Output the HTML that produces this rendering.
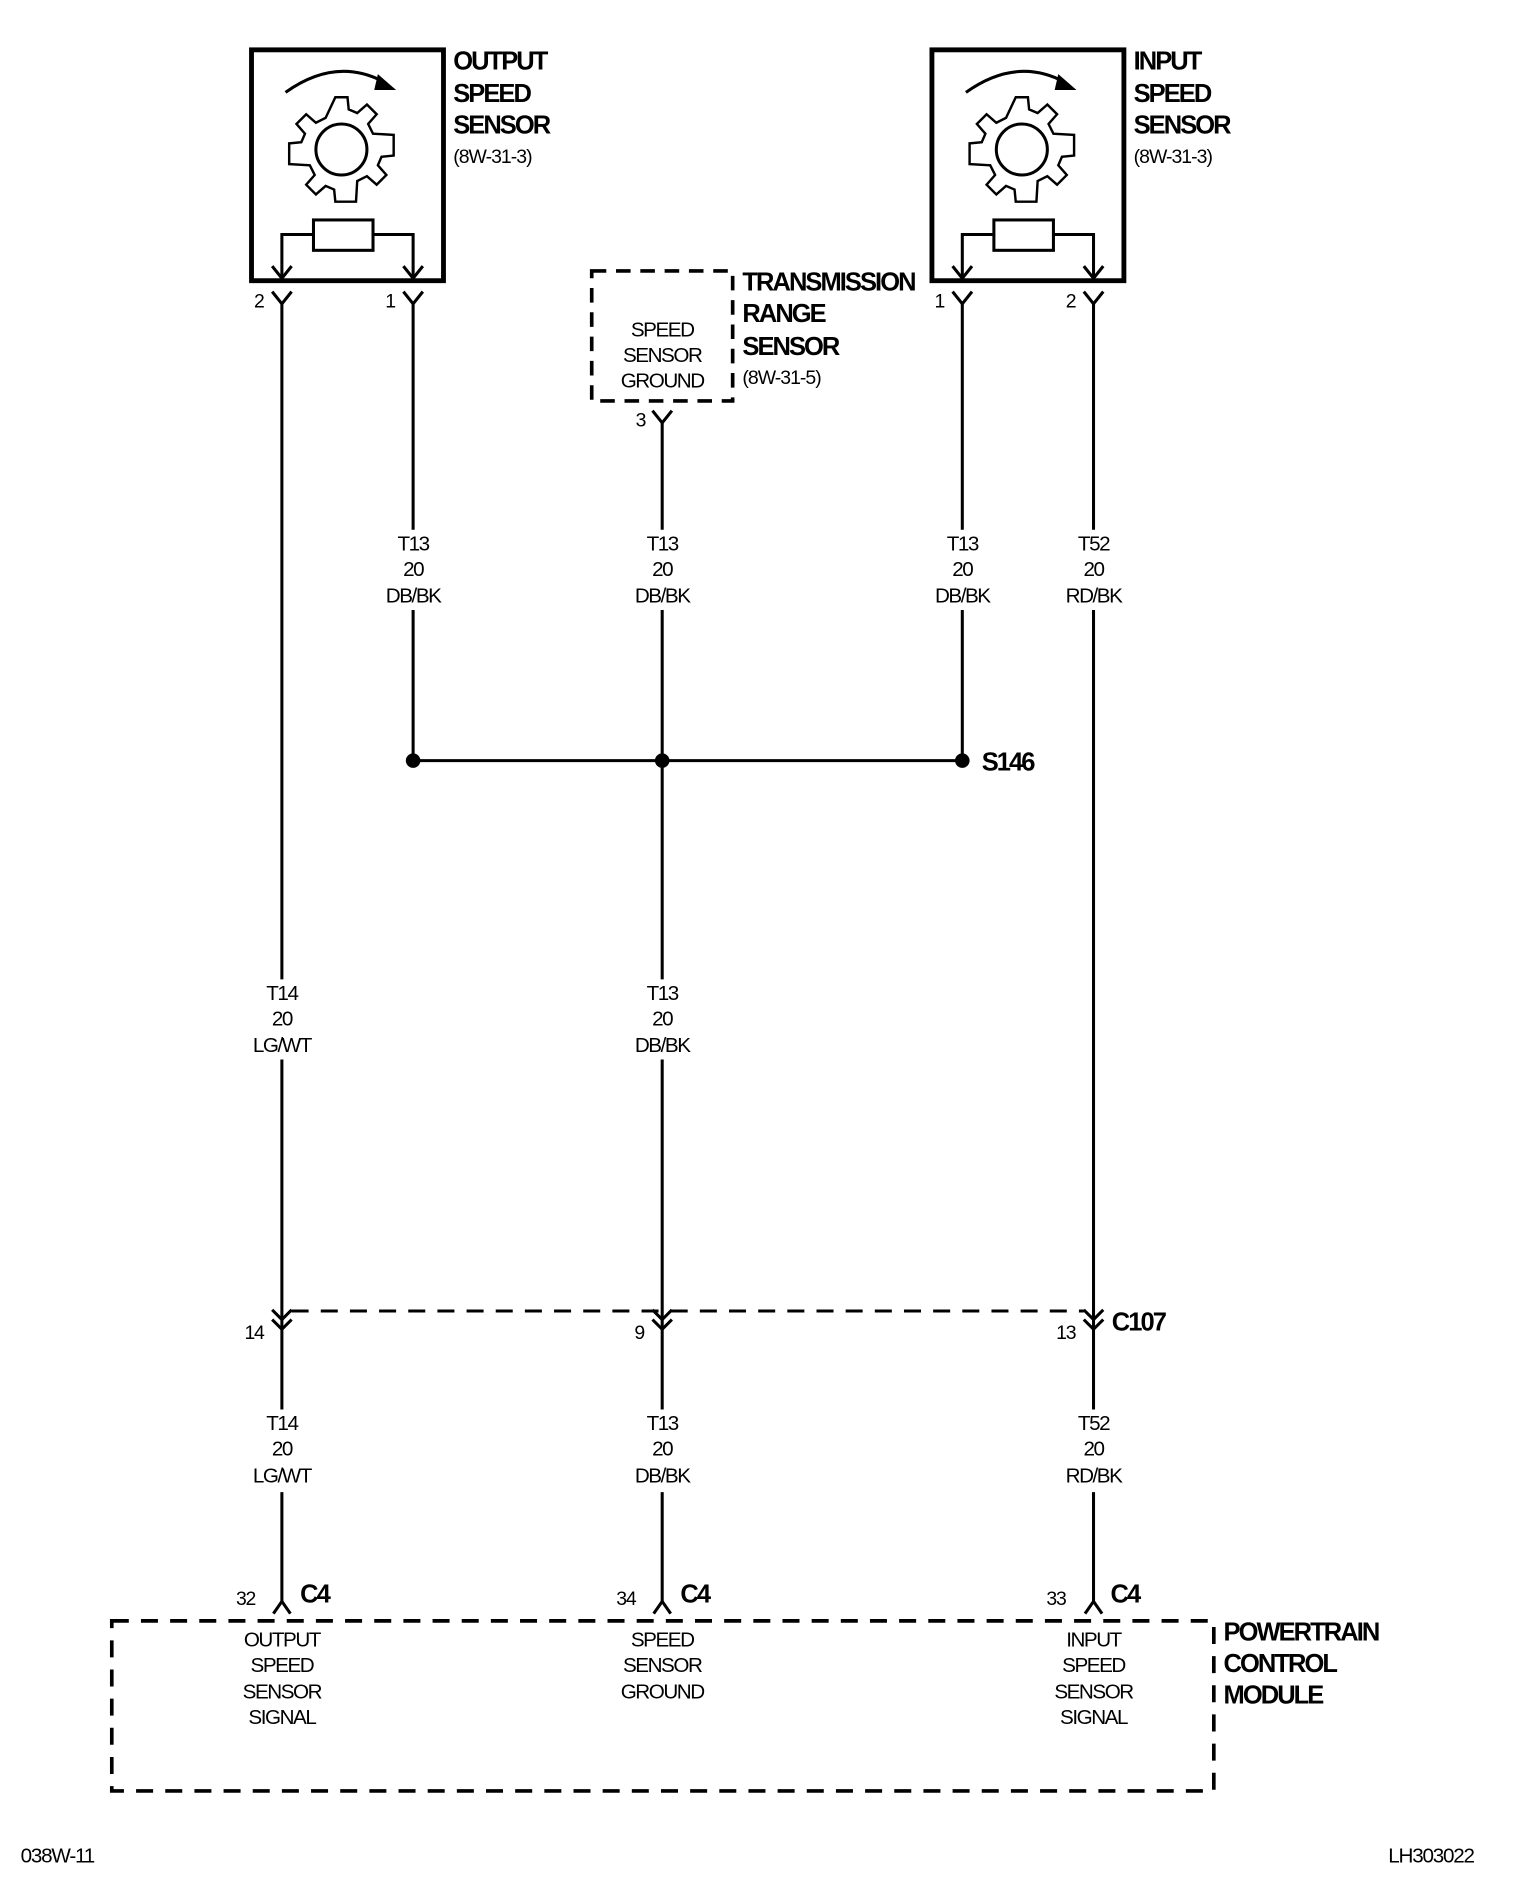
<!DOCTYPE html>
<html><head><style>
html,body{margin:0;padding:0;background:#fff;}
svg{display:block;}
text{font-family:"Liberation Sans",sans-serif;fill:#000;}
.w{font-size:17px;letter-spacing:-1.2px;text-anchor:middle;}
.b{font-size:21px;font-weight:bold;letter-spacing:-1.6px;}
.s{font-size:16px;letter-spacing:-0.8px;}
.p{font-size:16px;letter-spacing:-1px;text-anchor:end;}
.f{font-size:17px;letter-spacing:-1px;}
</style></head><body>
<svg width="1520" height="1904" viewBox="0 0 1251 1567" xmlns="http://www.w3.org/2000/svg">
<defs>
<g id="gear">
<path d="M-5,-43 L5,-43 L6,-33 L13,-30 L21,-37 L29,-29 L22,-21 L26,-13 L43,-12 L43,5 L33,6 L30,13 L37,21 L29,29 L21,22 L13,26 L12,43 L-5,43 L-6,33 L-13,30 L-21,37 L-29,29 L-22,21 L-26,13 L-43,12 L-43,-5 L-33,-6 L-30,-13 L-37,-21 L-29,-29 L-21,-22 L-13,-26 Z" fill="none" stroke="#000" stroke-width="2"/>
<circle r="21" fill="none" stroke="#000" stroke-width="2.5"/>
</g>
<g id="sensor">
<rect x="0" y="0" width="158" height="190" fill="none" stroke="#000" stroke-width="4"/>
<path d="M28,35 Q70,5 110,27" fill="none" stroke="#000" stroke-width="2.5"/>
<path d="M104,20 L119,33 L101,33 Z" fill="#000"/>
<use href="#gear" x="74" y="82"/>
<rect x="51" y="140" width="49" height="25" fill="none" stroke="#000" stroke-width="2.5"/>
<path d="M51,152 L25,152 L25,188 M100,152 L133,152 L133,188" fill="none" stroke="#000" stroke-width="2.5"/>
<path d="M17,178 L25,188 L33,178 M125,178 L133,188 L141,178" fill="none" stroke="#000" stroke-width="2.5"/>
</g>
</defs>

<use href="#sensor" x="207" y="41"/>
<text class="b" x="373" y="57">OUTPUT</text>
<text class="b" x="373" y="84">SPEED</text>
<text class="b" x="373" y="110">SENSOR</text>
<text class="s" x="373" y="134">(8W-31-3)</text>
<use href="#sensor" x="767" y="41"/>
<text class="b" x="933" y="57">INPUT</text>
<text class="b" x="933" y="84">SPEED</text>
<text class="b" x="933" y="110">SENSOR</text>
<text class="s" x="933" y="134">(8W-31-3)</text>

<rect x="487" y="223" width="116" height="107" fill="none" stroke="#000" stroke-width="3" stroke-dasharray="12,8"/>
<text class="w" x="545" y="277">SPEED</text>
<text class="w" x="545" y="298">SENSOR</text>
<text class="w" x="545" y="319">GROUND</text>
<text class="b" x="611" y="239">TRANSMISSION</text>
<text class="b" x="611" y="265">RANGE</text>
<text class="b" x="611" y="292">SENSOR</text>
<text class="s" x="611" y="316">(8W-31-5)</text>

<g stroke="#000" stroke-width="2.5" fill="none">
<path d="M224,240 L232,250 L240,240 M332,240 L340,250 L348,240 M784,240 L792,250 L800,240 M892,240 L900,250 L908,240 M537,338 L545,348 L553,338"/>
<path d="M232,250 V806 M232,872 V1160 M232,1228 V1318"/>
<path d="M340,250 V436 M340,502 V626"/>
<path d="M545,348 V436 M545,502 V806 M545,872 V1160 M545,1228 V1318"/>
<path d="M792,250 V436 M792,502 V626"/>
<path d="M900,250 V436 M900,502 V1160 M900,1228 V1318"/>
<path d="M340,626 H792"/>
<path d="M240,1079 H892" stroke-dasharray="14,10"/>
<path d="M224,1078 L232,1086 L240,1078 M224,1086 L232,1094 L240,1086 M537,1078 L545,1086 L553,1078 M537,1086 L545,1094 L553,1086 M892,1078 L900,1086 L908,1078 M892,1086 L900,1094 L908,1086"/>
<path d="M225,1328 L232,1318 L239,1328 M538,1328 L545,1318 L552,1328 M893,1328 L900,1318 L907,1328"/>
</g>
<circle cx="340" cy="626" r="6"/>
<circle cx="545" cy="626" r="6"/>
<circle cx="792" cy="626" r="6"/>
<text class="b" x="808" y="634">S146</text>

<text class="p" x="217" y="253">2</text>
<text class="p" x="325" y="253">1</text>
<text class="p" x="777" y="253">1</text>
<text class="p" x="885" y="253">2</text>
<text class="p" x="531" y="351">3</text>

<g class="w">
<text x="340" y="453">T13</text><text x="340" y="474">20</text><text x="340" y="496">DB/BK</text>
<text x="545" y="453">T13</text><text x="545" y="474">20</text><text x="545" y="496">DB/BK</text>
<text x="792" y="453">T13</text><text x="792" y="474">20</text><text x="792" y="496">DB/BK</text>
<text x="900" y="453">T52</text><text x="900" y="474">20</text><text x="900" y="496">RD/BK</text>
<text x="232" y="823">T14</text><text x="232" y="844">20</text><text x="232" y="866">LG/WT</text>
<text x="545" y="823">T13</text><text x="545" y="844">20</text><text x="545" y="866">DB/BK</text>
<text x="232" y="1177">T14</text><text x="232" y="1198">20</text><text x="232" y="1220">LG/WT</text>
<text x="545" y="1177">T13</text><text x="545" y="1198">20</text><text x="545" y="1220">DB/BK</text>
<text x="900" y="1177">T52</text><text x="900" y="1198">20</text><text x="900" y="1220">RD/BK</text>
</g>

<text class="p" x="217" y="1102">14</text>
<text class="p" x="530" y="1102">9</text>
<text class="p" x="885" y="1102">13</text>
<text class="b" x="915" y="1095">C107</text>

<text class="p" x="210" y="1321">32</text>
<text class="p" x="523" y="1321">34</text>
<text class="p" x="877" y="1321">33</text>
<text class="b" x="247" y="1319">C4</text>
<text class="b" x="560" y="1319">C4</text>
<text class="b" x="914" y="1319">C4</text>

<rect x="92" y="1334" width="907" height="140" fill="none" stroke="#000" stroke-width="3" stroke-dasharray="14,10"/>
<g class="w">
<text x="232" y="1355">OUTPUT</text><text x="232" y="1376">SPEED</text><text x="232" y="1398">SENSOR</text><text x="232" y="1419">SIGNAL</text>
<text x="545" y="1355">SPEED</text><text x="545" y="1376">SENSOR</text><text x="545" y="1398">GROUND</text>
<text x="900" y="1355">INPUT</text><text x="900" y="1376">SPEED</text><text x="900" y="1398">SENSOR</text><text x="900" y="1419">SIGNAL</text>
</g>
<text class="b" x="1007" y="1350">POWERTRAIN</text>
<text class="b" x="1007" y="1376">CONTROL</text>
<text class="b" x="1007" y="1402">MODULE</text>

<text class="f" x="17" y="1533">038W-11</text>
<text class="f" x="1213" y="1533" text-anchor="end">LH303022</text>
</svg>
</body></html>
